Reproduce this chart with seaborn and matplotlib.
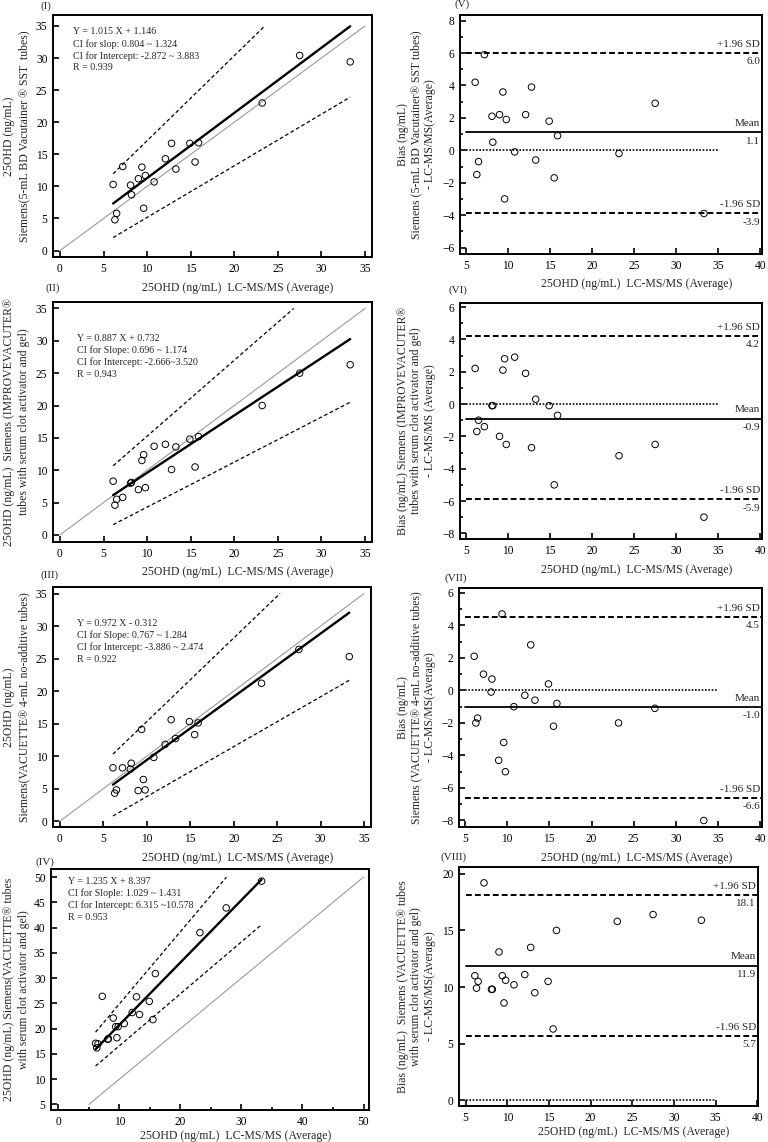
import numpy as np
import matplotlib
matplotlib.use("Agg")
import matplotlib.pyplot as plt
from matplotlib.ticker import MultipleLocator
import seaborn as sns

# 25OHD by LC-MS/MS (x axis of every panel), one value per sample
lcms = [6.1, 6.3, 6.5, 7.2, 8.1, 8.2, 9.0, 9.4, 9.6, 9.8,
        10.8, 12.1, 12.8, 13.3, 14.9, 15.5, 15.9, 23.2, 27.5, 33.3]

# Siemens results for the four tube types (same sample order)
bd_sst = [10.3, 4.8, 5.8, 13.1, 10.2, 8.7, 11.2, 13.0, 6.6, 11.7,
          10.7, 14.3, 16.7, 12.7, 16.7, 13.8, 16.8, 23.0, 30.4, 29.4]
improve_gel = [8.3, 4.6, 5.5, 5.8, 8.0, 8.1, 7.0, 11.5, 12.4, 7.3,
               13.7, 14.0, 10.1, 13.6, 14.8, 10.5, 15.2, 20.0, 25.0, 26.3]
vacuette_plain = [8.2, 4.3, 4.8, 8.2, 8.0, 8.9, 4.7, 14.1, 6.4, 4.8,
                  9.8, 11.8, 15.6, 12.7, 15.3, 13.3, 15.1, 21.2, 26.4, 25.3]
vacuette_gel = [17.1, 16.2, 17.0, 26.4, 17.9, 18.0, 22.1, 20.4, 18.2, 20.4,
                21.0, 23.2, 26.3, 22.8, 25.4, 21.8, 30.9, 39.0, 43.9, 49.2]

# regression results printed on the left panels
slopes = [1.015, 0.887, 0.972, 1.235]
intercepts = [1.146, 0.732, -0.312, 8.397]
slope_ci = [(0.804, 1.324), (0.696, 1.174), (0.767, 1.284), (1.029, 1.431)]
intercept_ci = [(-2.872, 3.883), (-2.666, 3.520), (-3.886, 2.474), (6.315, 10.578)]
r_values = [0.939, 0.943, 0.922, 0.953]
reg_text = [
    ["Y = 1.015 X + 1.146", "CI for slop: 0.804 ~ 1.324",
     "CI for Intercept: -2.872 ~ 3.883", "R = 0.939"],
    ["Y = 0.887 X + 0.732", "CI for Slope: 0.696 ~ 1.174",
     "CI for Intercept: -2.666~3.520", "R = 0.943"],
    ["Y = 0.972 X - 0.312", "CI for Slope: 0.767 ~ 1.284",
     "CI for Intercept: -3.886 ~ 2.474", "R = 0.922"],
    ["Y = 1.235 X + 8.397", "CI for Slople: 1.029 ~ 1.431",
     "CI for Intercept: 6.315 ~10.578", "R = 0.953"],
]

# Bland-Altman limits printed on the right panels
ba_mean = [1.1, -0.9, -1.0, 11.9]
ba_upper = [6.0, 4.2, 4.5, 18.1]
ba_lower = [-3.9, -5.9, -6.6, 5.7]

scatter_ylabels = [
    "25OHD (ng/mL)\nSiemens(5-mL BD Vacutainer ® SST  tubes)",
    "25OHD (ng/mL)  Siemens (IMPROVEVACUTER®\ntubes with serum clot activator and gel)",
    "25OHD (ng/mL)\nSiemens(VACUETTE® 4-mL no-additive tubes)",
    "25OHD (ng/mL) Siemens(VACUETTE® tubes\nwith serum clot activator and gel)",
]
ba_ylabels = [
    "Bias (ng/mL)\nSiemens (5-mL BD Vacutainer® SST tubes)\n- LC-MS/MS(Average)",
    "Bias (ng/mL) Siemens (IMPROVEVACUTER®\ntubes with serum clot activator and gel)\n- LC-MS/MS (Average)",
    "Bias (ng/mL)\nSiemens (VACUETTE® 4-mL no-additive tubes)\n- LC-MS/MS(Average)",
    "Bias (ng/mL)  Siemens (VACUETTE® tubes\nwith serum clot activator and gel)\n- LC-MS/MS(Average)",
]
left_tags = ["(I)", "(II)", "(III)", "(IV)"]
right_tags = ["(V)", "(VI)", "(VII)", "(VIII)"]
xlabel = "25OHD (ng/mL)  LC-MS/MS (Average)"

W, H = 768, 1142

# axes boxes in pixels: left, top, right, bottom
left_boxes = [(53, 15, 372, 257), (53, 302, 372, 542), (53, 587, 371, 827), (51, 869, 369, 1110)]
right_boxes = [(460, 15, 762, 254), (460, 303, 762, 539), (459, 588, 762, 827), (459, 867, 758, 1106)]
left_lims = [((-0.8, 35.8), (-1.0, 36.7)), ((-0.8, 35.8), (-1.1, 36.0)),
             ((-0.8, 35.8), (-0.9, 36.0)), ((-1.2, 50.9), (3.9, 51.6))]
right_lims = [((4.3, 40.2), (-6.4, 8.35)), ((4.3, 40.2), (-8.35, 6.25)),
              ((4.3, 40.2), (-8.4, 6.3)), ((4.2, 40.1), (-0.5, 20.6))]
text_pos = [(0.063, 0.93), (0.075, 0.85), (0.075, 0.85), (0.053, 0.95)]
left_tag_pos = [(46, 6), (53, 288), (50, 575), (45, 862)]
right_tag_pos = [(462, 4), (458, 290), (456, 578), (454, 857)]
label_pads = [5, 5, 5, 1.5]

FS = 8.5


def add_axes(fig, box):
    l, t, r, b = box
    ax = fig.add_axes([l / W, 1 - b / H, (r - l) / W, (b - t) / H])
    for sp in ax.spines.values():
        sp.set_visible(True)
        sp.set_color("black")
        sp.set_linewidth(1.4)
    ax.tick_params(which="both", direction="in", labelsize=8.3, colors="black", width=1.2)
    ax.tick_params(which="major", length=4.5, pad=4)
    ax.tick_params(which="minor", length=2.5)
    return ax


def draw_regression(ax, i, ys, box):
    xmin, xmax = min(lcms), max(lcms)
    ytop = 50 if i == 3 else 35
    # identity line
    ident = (5, 50) if i == 3 else (0, 35)
    ax.plot(ident, ident, color="#9a9a9a", lw=0.8, zorder=1)
    # fitted line and CI lines
    ax.plot([xmin, xmax], [slopes[i] * xmin + intercepts[i], slopes[i] * xmax + intercepts[i]],
            color="black", lw=1.7, zorder=2)
    for s, b in [(slope_ci[i][1], intercept_ci[i][1]), (slope_ci[i][0], intercept_ci[i][0])]:
        x_end = min(xmax, (ytop - b) / s)
        ax.plot([xmin, x_end], [s * xmin + b, s * x_end + b], color="black",
                lw=0.9, ls=(0, (3, 2)), zorder=2)
    sns.scatterplot(x=lcms, y=ys, ax=ax, marker="o", s=22, facecolor="none",
                    edgecolor="black", linewidth=0.7, legend=False, zorder=3)
    (x0, x1), (y0, y1) = left_lims[i]
    ax.set_xlim(x0, x1)
    ax.set_ylim(y0, y1)
    if i == 3:
        ax.xaxis.set_major_locator(MultipleLocator(10))
        ax.xaxis.set_minor_locator(MultipleLocator(5))
        ax.yaxis.set_major_locator(MultipleLocator(5))
    else:
        ax.xaxis.set_major_locator(MultipleLocator(5))
        ax.yaxis.set_major_locator(MultipleLocator(5))
    tx, ty = text_pos[i]
    step = 12 / (box[3] - box[1])
    for k, line in enumerate(reg_text[i]):
        ax.text(tx, ty - k * step, line, transform=ax.transAxes, ha="left", va="center",
                fontsize=7.2)


def draw_bland_altman(ax, i, ys):
    bias = np.array(ys) - np.array(lcms)
    (x0, x1), (y0, y1) = right_lims[i]
    ax.plot([5, 35], [0, 0], color="black", lw=1.2, ls=(0, (1, 1)), zorder=1)
    ax.plot([5, x1], [ba_mean[i]] * 2, color="black", lw=1.3, zorder=1)
    for v in (ba_upper[i], ba_lower[i]):
        ax.plot([5, x1], [v, v], color="black", lw=1.4, ls=(0, (3, 1.6)), zorder=1)
    sns.scatterplot(x=lcms, y=bias, ax=ax, marker="o", s=22, facecolor="none",
                    edgecolor="black", linewidth=0.7, legend=False, zorder=3)
    ax.set_xlim(x0, x1)
    ax.set_ylim(y0, y1)
    ax.xaxis.set_major_locator(MultipleLocator(5))
    if i == 3:
        ax.yaxis.set_major_locator(MultipleLocator(5))
    else:
        ax.yaxis.set_major_locator(MultipleLocator(2))
        ax.yaxis.set_minor_locator(MultipleLocator(1))
    labels = [("+1.96 SD", ba_upper[i]), ("Mean", ba_mean[i]), ("-1.96 SD", ba_lower[i])]
    for name, v in labels:
        ax.annotate(name, xy=(0.993, v), xycoords=("axes fraction", "data"),
                    xytext=(0, 3), textcoords="offset points", ha="right", va="bottom", fontsize=8)
        ax.annotate(f"{v:.1f}", xy=(0.993, v), xycoords=("axes fraction", "data"),
                    xytext=(0, -3), textcoords="offset points", ha="right", va="top", fontsize=8)


def main():
    sns.set_theme(style="ticks")
    plt.rcParams["font.family"] = ["Liberation Serif", "DejaVu Serif"]

    fig = plt.figure(figsize=(W / 100, H / 100), dpi=100)
    series = [bd_sst, improve_gel, vacuette_plain, vacuette_gel]

    for i, ys in enumerate(series):
        ax = add_axes(fig, left_boxes[i])
        draw_regression(ax, i, ys, left_boxes[i])
        ax.set_xlabel(xlabel, fontsize=FS, labelpad=label_pads[i])
        ax.xaxis.label.set_x(0.58)
        l, t, r, b = left_boxes[i]
        fig.text(16.5 / W, 1 - (t + b) / 2 / H, scatter_ylabels[i], rotation=90,
                 ha="center", va="center", multialignment="center", fontsize=FS, linespacing=1.35)
        tx, ty = left_tag_pos[i]
        fig.text(tx / W, 1 - ty / H, left_tags[i], ha="center", va="center", fontsize=8)

        ax = add_axes(fig, right_boxes[i])
        draw_bland_altman(ax, i, ys)
        ax.set_xlabel(xlabel, fontsize=FS, labelpad=label_pads[i])
        ax.xaxis.label.set_x(0.585)
        l, t, r, b = right_boxes[i]
        fig.text(416.5 / W, 1 - (t + b) / 2 / H, ba_ylabels[i], rotation=90,
                 ha="center", va="center", multialignment="center", fontsize=FS, linespacing=1.15)
        tx, ty = right_tag_pos[i]
        fig.text(tx / W, 1 - ty / H, right_tags[i], ha="center", va="center", fontsize=8)

    fig.savefig("out.png", dpi=100, facecolor="white")
    plt.close(fig)


if __name__ == "__main__":
    main()
